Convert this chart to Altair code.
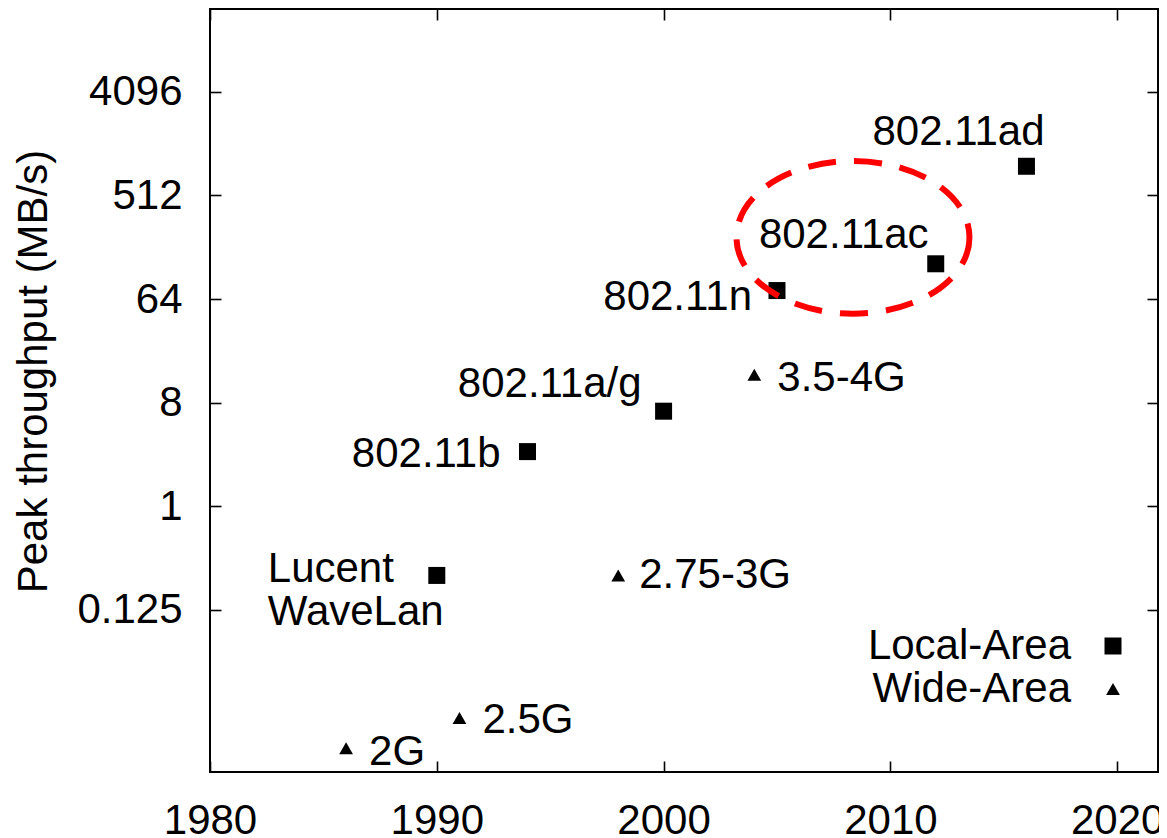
import altair as alt
import pandas as pd

# ---- data ----
names = ["Lucent WaveLan", "802.11b", "802.11a/g", "802.11n", "802.11ac", "802.11ad",
         "2G", "2.5G", "2.75-3G", "3.5-4G"]
labels = ["Lucent\nWaveLan", "802.11b", "802.11a/g", "802.11n", "802.11ac", "802.11ad",
          "2G", "2.5G", "2.75-3G", "3.5-4G"]
years = [1990, 1994, 2000, 2005, 2012, 2016, 1986, 1991, 1998, 2004]
throughput = [0.25, 3.0, 6.75, 76, 130, 920, 0.0078, 0.0143, 0.25, 14]
kinds = ["Local-Area"] * 6 + ["Wide-Area"] * 4
kind_domain = ["Local-Area", "Wide-Area"]

x_ticks = [1980, 1990, 2000, 2010, 2020]
y_ticks = [0.125, 1, 8, 64, 512, 4096]

highlight_year = [2008.35]
highlight_value = [221]

df = pd.DataFrame({"name": names, "label": labels, "year": years,
                   "value": throughput, "kind": kinds})
hl = pd.DataFrame({"year": highlight_year, "value": highlight_value})

FONT = "Liberation Sans"

x_scale = alt.Scale(domain=[1980, 2021.8], nice=False, zero=False)
y_scale = alt.Scale(type="log", base=2, domain=[0.00484, 21600], nice=False)

common = dict(domain=False, grid=False, tickColor="black", tickWidth=1.6,
              tickSize=11, offset=-11, labelFont=FONT, labelFontSize=42,
              labelColor="black", zindex=1)

x_axis_main = alt.Axis(values=x_ticks, format="d", labelPadding=28,
                       labelFlush=False, title=None, **common)
y_axis_main = alt.Axis(values=y_ticks, format="~g", labelPadding=28,
                       title="Peak throughput (MB/s)", titleFont=FONT,
                       titleFontSize=42, titleFontWeight="normal",
                       titleColor="black", titleX=-188, titleY=362,
                       titleAngle=270, titleAlign="center",
                       titleBaseline="middle", **common)
x_axis_top = alt.Axis(orient="top", values=x_ticks, labels=False, title=None,
                      **common)
y_axis_right = alt.Axis(orient="right", values=y_ticks, labels=False,
                        title=None, **common)

# legend drawn as two aligned parts: symbols (right) and labels (left)
legend_symbols = alt.Legend(title=None, orient="none", legendX=882, legendY=616,
                            labelFont=FONT, labelFontSize=42, labelExpr="''",
                            rowPadding=1, padding=0, symbolStrokeWidth=0,
                            symbolFillColor="black", labelLimit=400)
legend_labels = alt.Legend(title=None, orient="none", legendX=768, legendY=616,
                           labelFont=FONT, labelFontSize=42, labelColor="black",
                           labelAlign="right", labelOffset=0, symbolOffset=51,
                           symbolSize=289, symbolType="square", symbolOpacity=0,
                           rowPadding=1, padding=0, labelLimit=400)

points = alt.Chart(df).transform_calculate(area="datum.kind").mark_point(
    filled=True, opacity=1, strokeWidth=0
).encode(
    x=alt.X("year:Q", scale=x_scale, axis=x_axis_main),
    y=alt.Y("value:Q", scale=y_scale, axis=y_axis_main),
    shape=alt.Shape("kind:N", scale=alt.Scale(domain=kind_domain,
                                              range=["square", "triangle-up"]),
                    legend=legend_symbols),
    size=alt.Size("kind:N", scale=alt.Scale(domain=kind_domain, range=[289, 190]),
                  legend=legend_symbols),
    color=alt.Color("area:N", scale=alt.Scale(range=["black", "black"]),
                    legend=legend_labels),
)

# label placement (style only)
label_style = {
    "802.11ad": ("center", -68, -34),
    "802.11ac": ("center", -92, -29),
    "802.11n": ("right", -25, 6),
    "802.11a/g": ("right", -22, -27),
    "802.11b": ("right", -27, 2),
    "Lucent WaveLan": ("left", -169, -6),
    "2G": ("left", 23, 4),
    "2.5G": ("left", 23, 2),
    "2.75-3G": ("left", 21, 0),
    "3.5-4G": ("left", 23, 3),
}

texts = []
for n in names:
    a, dx, dy = label_style[n]
    t = alt.Chart(df).transform_filter(alt.datum.name == n).mark_text(
        align=a, baseline="middle", dx=dx, dy=dy, font=FONT, fontSize=42,
        color="black", lineBreak="\n", lineHeight=43
    ).encode(
        x=alt.X("year:Q", scale=x_scale, axis=None),
        y=alt.Y("value:Q", scale=y_scale, axis=None),
        text="label:N",
    )
    texts.append(t)

ELLIPSE = ("M1,0 C1,0.3618 0.5523,0.655 0,0.655 C-0.5523,0.655 -1,0.3618 -1,0 "
           "C-1,-0.3618 -0.5523,-0.655 0,-0.655 C0.5523,-0.655 1,-0.3618 1,0 Z")

ellipse = alt.Chart(hl).mark_point(
    shape=ELLIPSE, size=54289, filled=False, color="#ff0000", strokeWidth=6,
    strokeDash=[28, 18], opacity=1
).encode(
    x=alt.X("year:Q", scale=x_scale, axis=x_axis_top),
    y=alt.Y("value:Q", scale=y_scale, axis=y_axis_right),
)

chart = alt.layer(points, *texts, ellipse).resolve_axis(
    x="independent", y="independent"
).properties(
    width=948, height=763,
    autosize=alt.AutoSizeParams(type="none"),
    padding={"left": 202, "top": 1, "right": 1, "bottom": 64},
    background="white",
).configure_view(stroke="black", strokeWidth=2)

chart.save("out.html", embed_options={"renderer": "svg", "actions": False})
